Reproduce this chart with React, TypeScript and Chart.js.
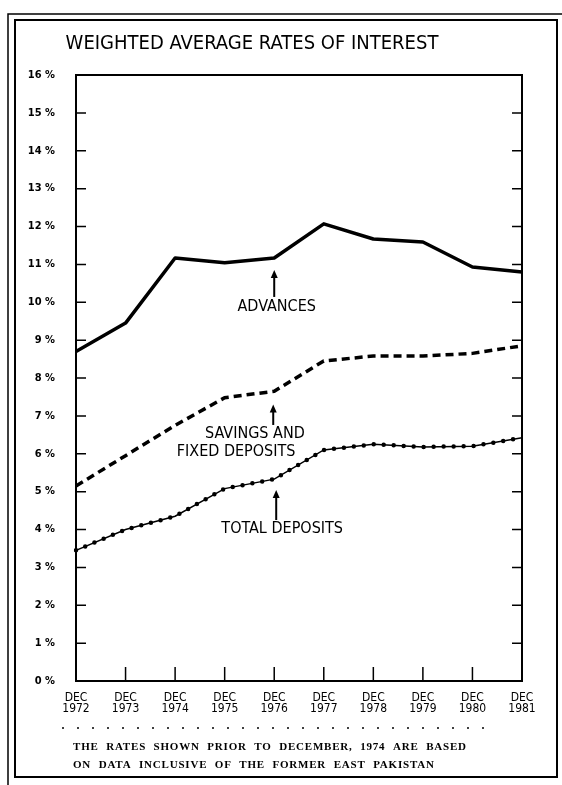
import React, { useEffect, useRef } from 'react';
import { Chart, registerables } from 'chart.js';

Chart.register(...registerables);

const years = ['1972', '1973', '1974', '1975', '1976', '1977', '1978', '1979', '1980', '1981'];
const monthLabel = 'DEC';
const advances = [8.7, 9.45, 11.17, 11.04, 11.17, 12.07, 11.67, 11.59, 10.93, 10.8];
const savingsFixed = [5.15, 5.95, 6.75, 7.48, 7.65, 8.45, 8.58, 8.58, 8.65, 8.85];
const totalDeposits = [3.45, 4.0, 4.35, 5.08, 5.33, 6.1, 6.25, 6.18, 6.2, 6.42];
const yMin = 0;
const yMax = 16;
const yStep = 1;

const TITLE = 'WEIGHTED AVERAGE RATES OF INTEREST';
const NOTE_LINES = [
  'THE RATES SHOWN PRIOR TO DECEMBER, 1974 ARE BASED',
  'ON DATA INCLUSIVE OF THE FORMER EAST PAKISTAN',
];

// annotation labels: text lines at (category index, value), arrows from a0 up to a1
const labelTexts = [['ADVANCES'], ['SAVINGS AND', 'FIXED DEPOSITS'], ['TOTAL DEPOSITS']];
const labelAnchors = [
  { lines: [{ x: 4.05, y: 9.87 }], arrow: { x: 4.0, from: 10.14, to: 10.85 } },
  { lines: [{ x: 3.61, y: 6.52 }, { x: 3.23, y: 6.04 }], arrow: { x: 3.98, from: 6.76, to: 7.3 } },
  { lines: [{ x: 4.16, y: 4.01 }], arrow: { x: 4.04, from: 4.25, to: 5.04 } },
];

const SANS = '"DejaVu Sans Condensed", "Liberation Sans Narrow", "DejaVu Sans", sans-serif';
const SERIF = '"Liberation Serif", "DejaVu Serif", serif';

const decor = {
  id: 'decor',
  beforeDraw(chart: any) {
    const ctx = chart.ctx;
    ctx.save();
    ctx.fillStyle = '#fff';
    ctx.fillRect(0, 0, chart.width, chart.height);
    ctx.strokeStyle = '#000';
    // outer frame
    ctx.lineWidth = 1.5;
    ctx.beginPath();
    ctx.moveTo(8, 785);
    ctx.lineTo(8, 14);
    ctx.lineTo(562, 14);
    ctx.stroke();
    ctx.lineWidth = 2;
    ctx.strokeRect(15, 20, 542, 757);
    // title
    ctx.fillStyle = '#000';
    ctx.font = `20px ${SANS}`;
    ctx.textAlign = 'center';
    ctx.textBaseline = 'middle';
    ctx.fillText(TITLE, 252, 44);
    ctx.restore();
  },
  afterDatasetsDraw(chart: any) {
    const ctx = chart.ctx;
    const xs = chart.scales.x;
    const ys = chart.scales.y;
    const { left, right, top, bottom } = chart.chartArea;
    ctx.save();
    ctx.strokeStyle = '#000';
    ctx.fillStyle = '#000';
    // plot box
    ctx.lineWidth = 2;
    ctx.strokeRect(left, top, right - left, bottom - top);
    // inward ticks
    ctx.lineWidth = 1.5;
    ctx.beginPath();
    for (let v = yMin; v <= yMax; v += yStep) {
      const py = ys.getPixelForValue(v);
      ctx.moveTo(left, py);
      ctx.lineTo(left + 10, py);
      ctx.moveTo(right, py);
      ctx.lineTo(right - 10, py);
    }
    for (let i = 1; i < years.length - 1; i++) {
      const px = xs.getPixelForValue(i);
      ctx.moveTo(px, bottom);
      ctx.lineTo(px, bottom - 14);
    }
    ctx.stroke();
    // annotations
    ctx.font = `16px ${SANS}`;
    ctx.textAlign = 'center';
    ctx.textBaseline = 'middle';
    labelAnchors.forEach((a, k) => {
      a.lines.forEach((p, j) => {
        ctx.fillText(labelTexts[k][j], xs.getPixelForValue(p.x), ys.getPixelForValue(p.y));
      });
      const ax = xs.getPixelForValue(a.arrow.x);
      const y0 = ys.getPixelForValue(a.arrow.from);
      const y1 = ys.getPixelForValue(a.arrow.to);
      ctx.lineWidth = 2;
      ctx.beginPath();
      ctx.moveTo(ax, y0);
      ctx.lineTo(ax, y1 + 6);
      ctx.stroke();
      ctx.beginPath();
      ctx.moveTo(ax, y1);
      ctx.lineTo(ax - 3.5, y1 + 8);
      ctx.lineTo(ax + 3.5, y1 + 8);
      ctx.closePath();
      ctx.fill();
    });
    // dotted separator
    ctx.lineWidth = 1.5;
    ctx.setLineDash([2, 13]);
    ctx.beginPath();
    ctx.moveTo(62, 728);
    ctx.lineTo(490, 728);
    ctx.stroke();
    ctx.setLineDash([]);
    // footnote
    ctx.font = `bold 11px ${SERIF}`;
    ctx.textAlign = 'left';
    (ctx as any).letterSpacing = '0.8px';
    (ctx as any).wordSpacing = '4px';
    ctx.fillText(NOTE_LINES[0], 73, 747);
    ctx.fillText(NOTE_LINES[1], 73, 765);
    ctx.restore();
  },
};

export default function App() {
  const ref = useRef<HTMLCanvasElement>(null);
  useEffect(() => {
    if (!ref.current) return;
    const chart = new Chart(ref.current, {
      type: 'line',
      data: {
        labels: years.map((y) => [monthLabel, y]),
        datasets: [
          {
            label: 'Advances',
            data: advances,
            borderColor: '#000',
            borderWidth: 3.5,
            pointRadius: 0,
            tension: 0,
            borderJoinStyle: 'round',
          },
          {
            label: 'Savings and Fixed Deposits',
            data: savingsFixed,
            borderColor: '#000',
            borderWidth: 3.5,
            borderDash: [8, 5],
            pointRadius: 0,
            tension: 0,
          },
          {
            label: 'Total Deposits',
            data: totalDeposits,
            borderColor: '#000',
            borderWidth: 1.5,
            pointRadius: 0,
            tension: 0,
          },
          {
            label: 'Total Deposits (dots)',
            data: totalDeposits,
            borderColor: '#000',
            borderWidth: 4.5,
            borderDash: [0, 10],
            borderCapStyle: 'round',
            pointRadius: 0,
            tension: 0,
          },
        ],
      },
      options: {
        responsive: false,
        animation: false,
        layout: { padding: { left: 0, top: 75, right: 40, bottom: 0 } },
        plugins: {
          legend: { display: false },
          tooltip: { enabled: false },
          title: { display: false },
        },
        scales: {
          x: {
            type: 'category',
            offset: false,
            grid: { display: false },
            border: { display: false },
            afterFit: (s: any) => {
              s.height = 104;
            },
            ticks: {
              padding: 3,
              color: '#000',
              maxRotation: 0,
              autoSkip: false,
              font: { family: SANS, size: 12, lineHeight: 0.95 },
            },
          },
          y: {
            min: yMin,
            max: yMax,
            grid: { display: false },
            border: { display: false },
            afterFit: (s: any) => {
              s.width = 76;
            },
            ticks: {
              stepSize: yStep,
              padding: 13,
              color: '#000',
              font: { family: SANS, size: 11, weight: 'bold' },
              callback: (v: any) => `${v} %`,
            },
          },
        },
      },
      plugins: [decor],
    });
    return () => chart.destroy();
  }, []);
  return (
    <div style={{ position: 'absolute', left: 0, top: 0, width: 562, height: 785 }}>
      <canvas ref={ref} width={562} height={785} style={{ display: 'block', width: 562, height: 785 }} />
    </div>
  );
}
